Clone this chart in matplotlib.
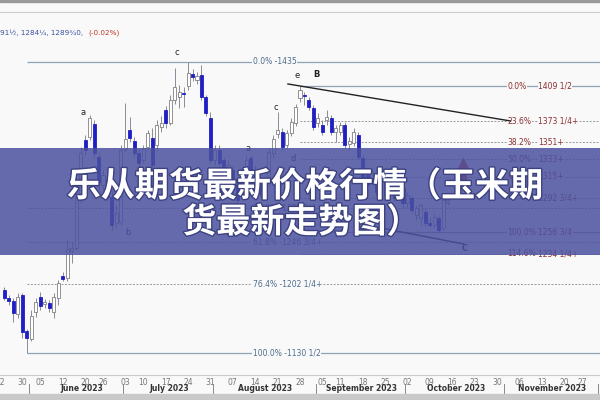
import numpy as np
import matplotlib.pyplot as plt
from matplotlib.patches import Rectangle
import matplotlib.patheffects as pe

# daily bars, x = trading day index (0 = 30 May 2023)
first_idx = -4
opens = [1196.4, 1188.1, 1184.9, 1171.3, 1191.2, 1153.5, 1145.1, 1173.4, 1189.1, 1181.8,
         1182.8, 1173.4, 1188.1, 1211.1, 1209.0, 1237.2, 1240.4, 1292.7, 1353.4, 1356.5,
         1370.1, 1335.6, 1306.3, 1311.5, 1293.8, 1266.6, 1267.6, 1344.0, 1363.8, 1352.3,
         1339.8, 1332.5, 1346.1, 1355.5, 1348.2, 1367.0, 1384.8, 1371.2, 1395.2, 1398.4,
         1402.6, 1409.9, 1422.4, 1416.2, 1421.4, 1398.4, 1376.4, 1332.5, 1342.9, 1332.5,
         1319.9, 1322.0, 1306.3, 1295.9, 1311.5, 1334.6, 1322.0, 1309.4, 1299.0, 1311.5,
         1339.8, 1359.7, 1361.8, 1348.2, 1360.7, 1371.2, 1397.3, 1400.5, 1395.2, 1386.9,
         1371.2, 1369.1, 1374.3, 1376.4, 1361.8, 1361.8, 1369.1, 1349.2, 1350.3, 1358.6,
         1334.6, 1316.8, 1311.5, 1316.8, 1301.1, 1309.4, 1299.0, 1305.3, 1295.9, 1303.2,
         1287.5, 1292.7, 1274.9, 1271.8, 1278.1, 1266.6, 1264.5, 1271.8, 1261.3, 1287.5]
highs = [1199.6, 1191.2, 1188.1, 1193.3, 1193.3, 1155.6, 1175.5, 1188.1, 1194.3, 1187.0,
         1186.0, 1193.3, 1206.9, 1215.3, 1248.7, 1246.7, 1298.0, 1346.1, 1358.6, 1379.5,
         1374.3, 1340.8, 1322.0, 1316.8, 1301.1, 1285.4, 1348.2, 1392.1, 1377.5, 1356.5,
         1345.0, 1348.2, 1363.8, 1365.9, 1374.3, 1378.5, 1389.0, 1400.5, 1428.7, 1410.9,
         1408.8, 1435.0, 1427.7, 1424.5, 1431.9, 1400.5, 1382.7, 1348.2, 1348.2, 1335.6,
         1332.5, 1327.3, 1309.4, 1316.8, 1337.7, 1337.7, 1327.3, 1313.6, 1311.5, 1345.0,
         1358.6, 1382.7, 1365.9, 1363.8, 1376.4, 1391.0, 1409.5, 1403.6, 1398.4, 1390.0,
         1381.6, 1374.3, 1384.8, 1379.5, 1369.1, 1372.2, 1372.2, 1356.5, 1365.9, 1361.8,
         1337.7, 1322.0, 1324.1, 1319.9, 1313.6, 1313.6, 1311.5, 1309.4, 1305.3, 1306.3,
         1299.0, 1295.9, 1285.4, 1287.5, 1282.2, 1271.8, 1277.0, 1274.9, 1293.8, 1295.9]
lows = [1186.0, 1180.7, 1162.9, 1167.1, 1146.2, 1130.5, 1143.1, 1168.2, 1175.5, 1177.6,
        1173.4, 1167.1, 1180.7, 1205.8, 1205.8, 1224.7, 1238.3, 1287.5, 1337.7, 1353.4,
        1334.6, 1301.1, 1301.1, 1290.6, 1259.2, 1261.3, 1264.5, 1340.8, 1351.3, 1335.6,
        1324.1, 1329.3, 1342.9, 1322.0, 1342.9, 1361.8, 1365.9, 1369.1, 1391.0, 1386.9,
        1387.9, 1405.7, 1415.1, 1412.0, 1395.2, 1378.5, 1329.3, 1327.3, 1324.1, 1311.5,
        1313.6, 1297.9, 1285.4, 1292.7, 1309.4, 1314.7, 1303.2, 1294.8, 1292.7, 1306.3,
        1334.6, 1355.5, 1342.9, 1345.0, 1357.6, 1368.0, 1393.1, 1390.0, 1384.8, 1363.8,
        1367.0, 1358.6, 1369.1, 1358.6, 1351.3, 1358.6, 1345.0, 1342.9, 1347.1, 1332.5,
        1311.5, 1303.2, 1306.3, 1295.9, 1295.9, 1292.7, 1293.8, 1289.6, 1290.6, 1282.2,
        1282.2, 1277.0, 1269.7, 1264.5, 1262.4, 1261.3, 1261.3, 1256.75, 1259.2, 1285.4]
closes = [1188.1, 1184.9, 1172.4, 1189.1, 1152.5, 1146.2, 1169.2, 1183.9, 1179.7, 1183.9,
          1177.6, 1189.1, 1203.7, 1207.9, 1239.3, 1240.4, 1293.8, 1339.8, 1342.9, 1376.4,
          1339.8, 1309.4, 1316.8, 1293.8, 1264.5, 1277.0, 1342.9, 1354.4, 1355.5, 1339.8,
          1329.3, 1345.0, 1360.7, 1327.3, 1369.1, 1371.2, 1371.2, 1395.2, 1408.8, 1403.6,
          1402.0, 1423.5, 1419.3, 1420.4, 1398.4, 1381.6, 1332.5, 1342.9, 1329.3, 1316.8,
          1327.3, 1301.1, 1290.6, 1313.6, 1332.5, 1319.9, 1306.3, 1297.9, 1306.3, 1340.8,
          1354.4, 1363.8, 1346.1, 1360.7, 1372.2, 1387.9, 1405.7, 1399.4, 1387.9, 1367.0,
          1376.4, 1361.8, 1377.5, 1361.8, 1365.9, 1369.1, 1348.2, 1352.3, 1361.8, 1335.6,
          1314.7, 1306.3, 1319.9, 1299.0, 1309.4, 1295.9, 1306.3, 1292.7, 1301.1, 1287.5,
          1295.9, 1280.1, 1282.2, 1285.4, 1266.6, 1264.5, 1272.8, 1259.2, 1290.6, 1290.6]

# fibonacci sets
left_pct = ['0.0%', '50.0%', '61.8%', '76.4%', '100.0%']
left_val = [1435, 1282.75, 1246.75, 1202.25, 1130.5]
left_txt = ['1435', '1282 3/4', '1246 3/4+', '1202 1/4+', '1130 1/2']
right_pct = ['0.0%', '23.6%', '38.2%', '50.0%', '61.8%', '76.4%', '100.0%', '114.6%']
right_val = [1409.5, 1373.25, 1351, 1333, 1315, 1292.75, 1256.75, 1234.25]
right_txt = ['1409 1/2', '1373 1/4+', '1351+', '1333+', '1315+', '1292 3/4+', '1256 3/4', '1234 1/4+']

# wave labels
wave_txt = ['a', 'b', 'c', 'a', 'b', 'c', 'd', 'e', 'B', 'C']
wave_x = [13.6, 23.6, 34.5, 50.5, 53.4, 56.5, 60.5, 61.4, 65.6, 98.8]
wave_y = [1381.7, 1257, 1444.5, 1344, 1295.9, 1387, 1334.5, 1420.4, 1421.4, 1239.4]

# triangle lines
upper_x = [59.3, 109]
upper_y = [1412, 1373.3]
lower_x = [80.1, 98.5]
lower_y = [1261.3, 1244.6]

# x axis: weekly day labels and months
day_idx = [-5, 0, 4, 9, 14, 18, 23, 27, 32, 37, 42, 47, 52, 57, 62, 67, 71, 76, 81,
           86, 91, 96, 101, 106, 111, 116, 121, 125]
day_lbl = ['22', '30', '05', '12', '20', '26', '03', '10', '17', '24', '31', '07', '14',
           '21', '28', '05', '11', '18', '25', '02', '09', '16', '23', '30', '06', '13',
           '20', '27']
month_lbl = ['June 2023', 'July 2023', 'August 2023', 'September 2023',
             'October 2023', 'November 2023']
month_x = [13.3, 32.7, 54.3, 75.8, 96.8, 118.3]
month_sep = [1.5, 22.5, 42.5, 65.5, 85.5, 107.5, 128.5]

bg = '#f9f9f9'
up_col = '#ffffff'
dn_col = '#1f1fc4'
wick_col = '#8a8a9a'

fig = plt.figure(figsize=(6, 4), dpi=100, facecolor=bg)
ax = fig.add_axes([0, 0.0625, 1, 0.9075])
ax.set_facecolor(bg)
ax.set_xlim(-4.45, 129.0)
ax.set_ylim(1107.5, 1487.3)

o = np.array(opens)
h = np.array(highs)
l = np.array(lows)
c = np.array(closes)
x = np.arange(first_idx, first_idx + len(o))
up = c >= o

ax.vlines(x, l, h, color=wick_col, lw=0.7, zorder=3)
ax.bar(x[up], c[up] - o[up], bottom=o[up], width=0.68, color=up_col,
       edgecolor='#808080', lw=0.6, zorder=4)
ax.bar(x[~up], o[~up] - c[~up], bottom=c[~up], width=0.68, color=dn_col,
       edgecolor=dn_col, lw=0.6, zorder=4)

# fib lines
for i in range(len(left_val)):
    solid = left_pct[i] in ('0.0%', '100.0%')
    ax.hlines(left_val[i], 1, 129, color='#8ea2b4' if solid else '#9a9a9a',
              lw=0.9 if solid else 0.7, linestyles='-' if solid else (0, (2, 1.5)), zorder=2)
    ax.text(51.4, left_val[i], left_pct[i] + ' -' + left_txt[i], fontsize=5.5,
            color='#4d6c8c', va='center', ha='left', zorder=5,
            bbox=dict(facecolor=bg, edgecolor='none', pad=0.3))
for i in range(len(right_val)):
    solid = right_pct[i] in ('0.0%', '100.0%')
    ax.hlines(right_val[i], 62, 129, color='#8ea2b4' if solid else '#9a9a9a',
              lw=0.9 if solid else 0.7, linestyles='-' if solid else (0, (2, 1.5)), zorder=2)
    ax.text(108.3, right_val[i], right_pct[i], fontsize=5.5, color='#8a2f2f',
            va='center', ha='left', zorder=5,
            bbox=dict(facecolor=bg, edgecolor='none', pad=0.3))
    ax.text(115.2, right_val[i], right_txt[i], fontsize=5.5, color='#8a2f2f',
            va='center', ha='left', zorder=5,
            bbox=dict(facecolor=bg, edgecolor='none', pad=0.3))

ax.plot(upper_x, upper_y, color='#222222', lw=1.0, zorder=5)
ax.plot(lower_x, lower_y, color='#222222', lw=1.0, zorder=5)

for t, xx, yy in zip(wave_txt, wave_x, wave_y):
    ax.text(xx, yy, t, fontsize=6, color='#222222', ha='center', va='center',
            fontweight='bold' if t.isupper() else 'normal', zorder=6)

ax.annotate('', xy=(98.5, 1338), xytext=(98.5, 1302),
            arrowprops=dict(arrowstyle='simple,head_width=1.0,head_length=1.0,tail_width=0.5',
                            color='#c0392b', lw=0), zorder=6)

# axis styling
for s in ['left', 'right']:
    ax.spines[s].set_visible(False)
ax.spines['top'].set_color('#cccccc')
ax.spines['bottom'].set_color('#cccccc')
ax.set_yticks([])
ax.set_xticks(day_idx)
ax.set_xticklabels(day_lbl, fontsize=5.5, color='#777777')
ax.tick_params(axis='x', length=0, pad=2)
tr = ax.get_xaxis_transform()
for m, mx in zip(month_lbl, month_x):
    ax.text(mx, -0.036, m, transform=tr, fontsize=5.5, fontweight='bold',
            color='#333333', ha='center', va='center', clip_on=False)
for sx in month_sep:
    ax.plot([sx, sx], [-0.024, -0.05], transform=tr, color='#888888', lw=0.7, clip_on=False)

# top quote line
fig.text(0.0, 1 - 33 / 400, '91\u00bd, 1284\u00bc, 1289\u00be0,', fontsize=5.2,
         color='#3b4fa0', va='center', ha='left')
fig.text(88 / 600, 1 - 33 / 400, '(-0.02%)', fontsize=5.2, color='#c0392b',
         va='center', ha='left')

# frame bands
fig.patches.append(Rectangle((0, 1 - 2 / 400), 1, 2 / 400, transform=fig.transFigure,
                             color='#999999', zorder=1))
fig.patches.append(Rectangle((0, 0), 1, 6 / 400, transform=fig.transFigure,
                             color='#c9c9c9', zorder=1))

# title banner
fig.patches.append(Rectangle((0, 1 - 255 / 400), 1, 107 / 400, transform=fig.transFigure,
                             facecolor='#4b519f', alpha=0.85, edgecolor='none', zorder=2))
fx = [pe.withStroke(linewidth=2, foreground='#3c4180')]
fig.text(0.508, 1 - 186 / 400, '乐从期货最新价格行情（玉米期', fontsize=24.5,
         family=['Noto Sans CJK SC', 'DejaVu Sans'], fontweight='bold', color='white',
         ha='center', va='center', path_effects=fx, zorder=3)
fig.text(0.502, 1 - 222 / 400, '货最新走势图）', fontsize=24.5,
         family=['Noto Sans CJK SC', 'DejaVu Sans'], fontweight='bold', color='white',
         ha='center', va='center', path_effects=fx, zorder=3)

fig.savefig('out.png', dpi=100, facecolor=bg)
